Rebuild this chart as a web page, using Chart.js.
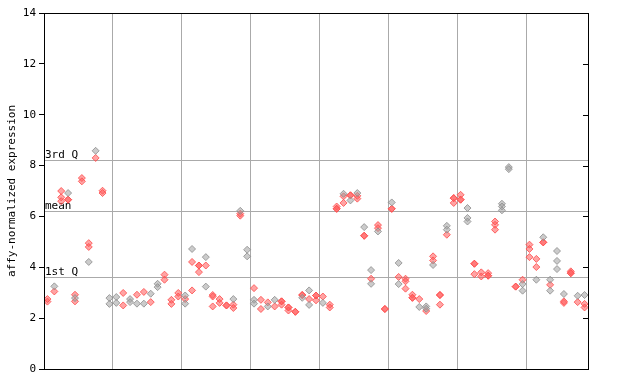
<!DOCTYPE html>
<html>
<head>
<meta charset="utf-8">
<script src="https://cdn.jsdelivr.net/npm/chart.js@4/dist/chart.umd.min.js"></script>
<style>
html,body{margin:0;padding:0;background:#fff;}
#wrap{width:640px;height:384px;}
</style>
</head>
<body>
<div id="wrap"><canvas id="c" width="640" height="384"></canvas></div>
<script>
// per-sample expression values (79 samples), red and gray points
const redPoints = [
 [2.65,2.75],[3.05],[7.0,6.75,6.6],[6.66,6.66],[2.92,2.66],[7.51,7.38],[4.95,4.8],[8.3],[7.01,6.92],[],
 [],[2.99,2.5],[],[2.92],[3.03],[2.63],[],[3.71,3.51],[2.72,2.56],[2.99,2.85],
 [2.75],[4.21,3.09],[4.07,4.07,3.81],[4.07],[2.91,2.85,2.46],[2.75,2.6],[2.5,2.5],[2.53,2.4],[6.11,6.03],[],
 [3.18],[2.72,2.36],[2.62],[2.46],[2.66,2.66,2.53],[2.42,2.42,2.3],[2.25,2.25],[2.91,2.91],[2.75],[2.89,2.89,2.7],
 [2.85],[2.53,2.42],[6.39,6.3,6.3],[6.79,6.53],[6.83,6.83],[6.81,6.7],[5.24,5.24],[3.55],[5.66,5.54],[2.36,2.36],
 [6.3,6.3],[3.62],[3.55,3.45,3.16],[2.92,2.8,2.8],[2.75],[2.28],[4.43,4.27],[2.91,2.91,2.53],[5.28],[6.72,6.72,6.53],
 [6.85,6.66,6.66],[],[4.14,4.14,3.73],[3.8,3.64],[3.77,3.67,3.67],[5.8,5.67,5.48],[],[],[3.24,3.24],[3.51],
 [4.89,4.72,4.4],[4.33,4.01],[4.98,4.98],[3.31],[],[2.66,2.6],[3.84,3.77,3.77],[2.63],[2.56,2.42]
];
const grayPoints = [
 [],[3.25],[],[6.92],[2.79],[],[4.21],[8.58],[],[2.79,2.56],
 [2.83,2.6],[],[2.75,2.63],[2.57],[2.57],[2.96],[3.35,3.22],[],[],[],
 [2.89,2.57],[4.72],[],[4.4,3.24],[],[],[],[2.75],[6.22],[4.69,4.43],
 [2.72,2.57],[],[2.46],[2.72],[],[],[],[2.8],[3.09,2.52],[],
 [2.6],[],[],[6.89],[6.63],[6.92],[5.58],[3.89,3.35],[5.41],[],
 [6.55],[4.17,3.34],[],[],[2.44],[2.46,2.37],[4.09],[],[5.63,5.48],[],
 [],[6.33,5.94,5.8],[],[],[],[],[6.5,6.39,6.24],[7.94,7.86],[],[3.34,3.08],
 [],[3.51],[5.18],[3.51,3.08],[4.64,4.25,3.93],[2.95],[],[2.88],[2.91]
];
const yTicks = [0,2,4,6,8,10,12,14];
const quantileLabels = ['3rd Q','mean','1st Q'];
const quantileValues = [8.23,6.22,3.62];
const yTitle = 'affy-normalized expression';
const nSamples = 79;

function toXY(arr){
  const out=[];
  arr.forEach((vals,i)=>vals.forEach(v=>out.push({x:i+0.5,y:v})));
  return out;
}

const FONT = '"DejaVu Sans Mono", "Liberation Mono", monospace';

const overlay = {
  id:'overlay',
  beforeDatasetsDraw(chart){
    const {ctx, chartArea:a, scales:{y}} = chart;
    ctx.save();
    ctx.strokeStyle='#aaaaaa'; ctx.lineWidth=1;
    quantileValues.forEach(v=>{
      const py=Math.round(y.getPixelForValue(v))+0.5;
      ctx.beginPath(); ctx.moveTo(a.left,py); ctx.lineTo(a.right,py); ctx.stroke();
    });
    ctx.fillStyle='#000'; ctx.font='11px '+FONT; ctx.textBaseline='bottom'; ctx.textAlign='left';
    quantileValues.forEach((v,k)=>{
      const py=Math.round(y.getPixelForValue(v));
      ctx.fillText(quantileLabels[k], a.left+1, py+1);
    });
    ctx.restore();
  },
  afterDraw(chart){
    const {ctx, chartArea:a, scales:{y}} = chart;
    ctx.save();
    ctx.strokeStyle='#000'; ctx.lineWidth=1;
    ctx.strokeRect(Math.round(a.left)+0.5, Math.round(a.top)+0.5, Math.round(a.right-a.left), Math.round(a.bottom-a.top));
    yTicks.forEach(v=>{
      if(v===0||v===14) return;
      const py=Math.round(y.getPixelForValue(v))+0.5;
      ctx.beginPath(); ctx.moveTo(a.right-5,py); ctx.lineTo(a.right,py); ctx.stroke();
    });
    ctx.fillStyle='#000'; ctx.font='11px '+FONT;
    ctx.translate(12,(a.top+a.bottom)/2);
    ctx.rotate(-Math.PI/2);
    ctx.textAlign='center'; ctx.textBaseline='middle';
    ctx.fillText(yTitle,0,0);
    ctx.restore();
  }
};

new Chart(document.getElementById('c'),{
  type:'scatter',
  data:{datasets:[
    {label:'gray',data:toXY(grayPoints),pointStyle:'rectRot',radius:3.5,
     backgroundColor:'rgba(160,160,160,0.55)',borderColor:'rgba(140,140,140,0.8)',borderWidth:1},
    {label:'red',data:toXY(redPoints),pointStyle:'rectRot',radius:3.5,
     backgroundColor:'rgba(255,90,90,0.55)',borderColor:'rgba(255,80,80,0.85)',borderWidth:1}
  ]},
  options:{
    responsive:false,animation:false,
    layout:{padding:{top:13,right:52,left:0,bottom:0}},
    plugins:{legend:{display:false},tooltip:{enabled:false}},
    scales:{
      x:{type:'linear',min:0,max:nSamples,
        afterBuildTicks(s){s.ticks=[10,20,30,40,50,60,70].map(v=>({value:v}));},
        ticks:{display:false},
        grid:{color:'#aaaaaa',drawTicks:false,lineWidth:1},
        border:{display:false},
        afterFit(s){s.height=15;}
      },
      y:{type:'linear',min:0,max:14,
        afterBuildTicks(s){s.ticks=yTicks.map(v=>({value:v}));},
        ticks:{color:'#000',font:{family:FONT,size:11},padding:3},
        grid:{drawOnChartArea:false,drawTicks:true,tickLength:5,color:'#000'},
        border:{display:false},
        afterFit(s){s.width=44;}
      }
    }
  },
  plugins:[overlay]
});
</script>
</body>
</html>
